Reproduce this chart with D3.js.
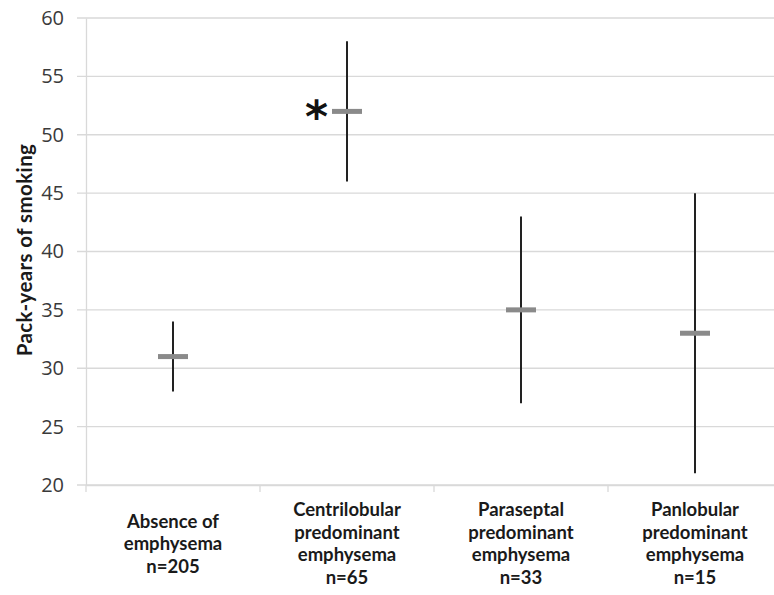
<!DOCTYPE html>
<html>
<head>
<meta charset="utf-8">
<script src="https://cdn.jsdelivr.net/npm/d3@7"></script>
<style>
  body { margin: 0; background: #fff; }
  svg { display: block; }
</style>
</head>
<body>
<div id="chart"></div>
<script>
// data
var categories = ["Absence of emphysema", "Centrilobular predominant emphysema", "Paraseptal predominant emphysema", "Panlobular predominant emphysema"];
var labelLines = [
  ["Absence of", "emphysema", "n=205"],
  ["Centrilobular", "predominant", "emphysema", "n=65"],
  ["Paraseptal", "predominant", "emphysema", "n=33"],
  ["Panlobular", "predominant", "emphysema", "n=15"]
];
var means = [31, 52, 35, 33];
var lows = [28, 46, 27, 21];
var highs = [34, 58, 43, 45];
var significant = [false, true, false, false];
var yTicks = [20, 25, 30, 35, 40, 45, 50, 55, 60];

var W = 774, H = 595;
var margin = {top: 18, left: 86, bottom: 110};
var plotW = 696, plotH = H - margin.top - margin.bottom;

var svg = d3.select("#chart").append("svg")
  .attr("width", W)
  .attr("height", H);

var g = svg.append("g")
  .attr("transform", "translate(" + margin.left + "," + margin.top + ")");

var x = d3.scaleBand().domain(categories).range([0, plotW]);
var y = d3.scaleLinear().domain([20, 60]).range([plotH, 0]);

// gridlines
g.append("g")
  .selectAll("line")
  .data(yTicks)
  .enter()
  .append("line")
    .attr("x1", -9)
    .attr("x2", plotW)
    .attr("y1", function(d) { return y(d); })
    .attr("y2", function(d) { return y(d); })
    .attr("stroke", "#d9d9d9")
    .attr("stroke-width", 1.3);

// y axis
var yAxis = g.append("g")
  .call(d3.axisLeft(y).tickValues(yTicks).tickSize(0).tickPadding(22));
yAxis.select(".domain").attr("stroke", "#d9d9d9").attr("stroke-width", 1.3);
yAxis.selectAll("text")
  .attr("font-family", "'Open Sans', sans-serif")
  .attr("font-size", 20)
  .attr("fill", "#3a3a3a");

// x axis with separator ticks
var xAxis = g.append("g")
  .attr("transform", "translate(0," + plotH + ")")
  .call(d3.axisBottom(x).tickSize(0).tickFormat(""));
xAxis.select(".domain").attr("stroke", "#d9d9d9").attr("stroke-width", 1.3);
g.append("g")
  .selectAll("line")
  .data(categories)
  .enter()
  .append("line")
    .attr("x1", function(d) { return x(d); })
    .attr("x2", function(d) { return x(d); })
    .attr("y1", plotH)
    .attr("y2", plotH + 7)
    .attr("stroke", "#d9d9d9")
    .attr("stroke-width", 1.3);

// category labels
var labels = g.append("g")
  .selectAll("text")
  .data(categories)
  .enter()
  .append("text")
    .attr("text-anchor", "middle")
    .attr("font-family", "Lato, 'Open Sans', sans-serif")
    .attr("font-weight", "bold")
    .attr("font-size", 18.5)
    .attr("fill", "#1a1a1a")
    .attr("transform", function(d) { return "translate(" + (x(d) + x.bandwidth() / 2) + "," + plotH + ")"; });

labels.each(function(d, i) {
  var lines = labelLines[i];
  var start = lines.length == 4 ? 31 : 42.5;
  d3.select(this).selectAll("tspan")
    .data(lines)
    .enter()
    .append("tspan")
      .attr("x", 0)
      .attr("y", function(l, j) { return start + j * 22.7; })
      .text(function(l) { return l; });
});

// range bars
var cx = function(d) { return x(d) + x.bandwidth() / 2; };
g.append("g")
  .selectAll("line")
  .data(categories)
  .enter()
  .append("line")
    .attr("x1", cx)
    .attr("x2", cx)
    .attr("y1", function(d, i) { return y(highs[i]); })
    .attr("y2", function(d, i) { return y(lows[i]); })
    .attr("stroke", "#222")
    .attr("stroke-width", 2);

// mean markers
g.append("g")
  .selectAll("rect")
  .data(categories)
  .enter()
  .append("rect")
    .attr("x", function(d) { return cx(d) - 15; })
    .attr("y", function(d, i) { return y(means[i]) - 2.5; })
    .attr("width", 30)
    .attr("height", 5)
    .attr("fill", "#8a8a8a");

// asterisk for significance
g.append("g")
  .selectAll("text")
  .data(categories.filter(function(d, i) { return significant[i]; }))
  .enter()
  .append("text")
    .attr("x", function(d) { return cx(d) - 19; })
    .attr("y", function(d) { return y(means[categories.indexOf(d)]) + 21; })
    .attr("text-anchor", "end")
    .attr("font-family", "'DejaVu Sans', sans-serif")
    .attr("font-weight", "bold")
    .attr("font-size", 44)
    .attr("fill", "#111")
    .text("*");

// y axis title
svg.append("text")
  .attr("transform", "translate(32,250) rotate(-90)")
  .attr("text-anchor", "middle")
  .attr("font-family", "Lato, 'Open Sans', sans-serif")
  .attr("font-weight", "bold")
  .attr("font-size", 20.5)
  .attr("letter-spacing", 0.4)
  .attr("fill", "#1a1a1a")
  .text("Pack-years of smoking");
</script>
</body>
</html>
